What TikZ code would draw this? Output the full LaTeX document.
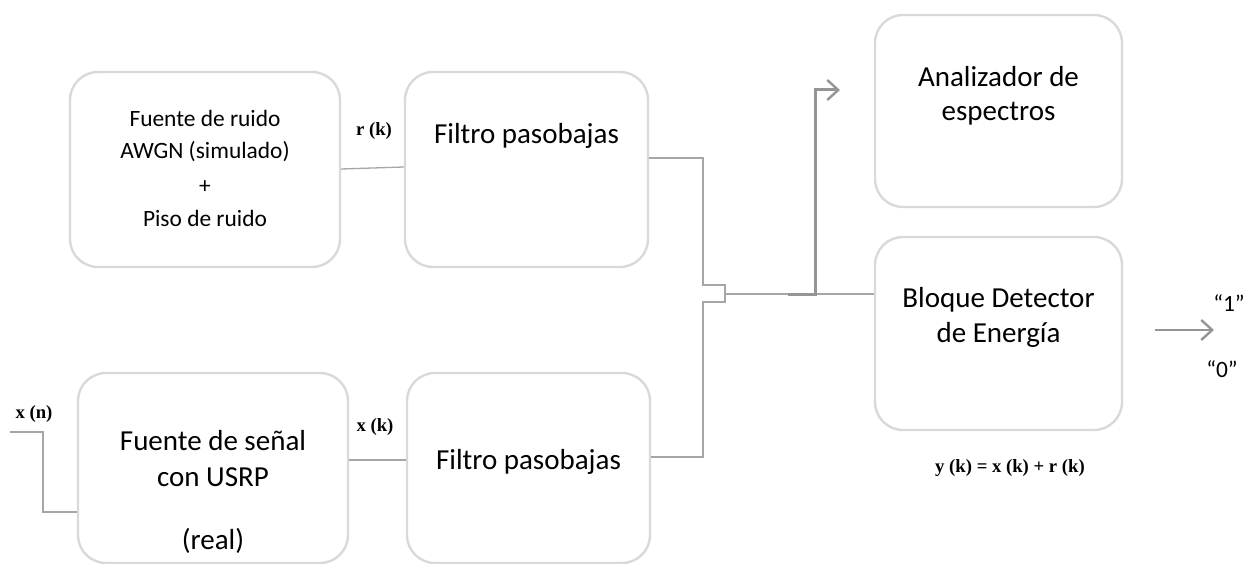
\documentclass[tikz,border=0pt]{standalone}
\usepackage{fontspec}
\setmainfont{Carlito}
\newfontfamily\lblfont{Liberation Serif}
\usetikzlibrary{arrows.meta}
\definecolor{boxgray}{HTML}{D9D9D9}
\definecolor{linegray}{HTML}{A6A6A6}
\definecolor{arrgray}{HTML}{959595}
\tikzset{
  blk/.style={draw=boxgray, line width=2.4pt, rounded corners=28pt, inner sep=0pt},
  big/.style={font=\fontsize{29}{35}\selectfont, anchor=base, inner sep=0pt},
  small/.style={font=\fontsize{23.4}{28}\selectfont, anchor=base, inner sep=0pt},
  lbl/.style={font=\lblfont\bfseries\fontsize{18.7}{22}\selectfont, anchor=base, inner sep=0pt},
  conn/.style={draw=linegray, line width=1.3pt},
  thick conn/.style={draw=arrgray, line width=3pt},
  openarrow/.style={-{Straight Barb[length=11pt,width=20pt,line width=2.4pt]}}
}
\begin{document}
\begin{tikzpicture}[x=1pt,y=-1pt]
\useasboundingbox (0,0) rectangle (1252,564);
% boxes
\node[blk, minimum width=270pt, minimum height=195pt] (n1) at (205,169.5) {};
\node[blk, minimum width=243pt, minimum height=195pt] (f1) at (526.5,169.5) {};
\node[blk, minimum width=247pt, minimum height=192pt] (an) at (998.5,111) {};
\node[blk, minimum width=247pt, minimum height=193pt] (det) at (998.5,333.5) {};
\node[blk, minimum width=270pt, minimum height=190pt] (s1) at (213,468) {};
\node[blk, minimum width=243pt, minimum height=190pt] (f2) at (528.5,468) {};
% texts
\node[small] (t1a) at (205,126.7) {Fuente de ruido};
\node[small] (t1b) at (205,158.3) {AWGN (simulado)};
\node[small] (t1c) at (205,193.3) {+};
\node[small] (t1d) at (205,226.7) {Piso de ruido};
\node[big] (t2) at (526.5,144) {Filtro pasobajas};
\node[big] (t3a) at (998.5,87) {Analizador de};
\node[big] (t3b) at (998.5,121) {espectros};
\node[big] (t4a) at (998.5,307) {Bloque Detector};
\node[big] (t4b) at (998.5,342) {de Energía};
\node[big] (t5a) at (213,450) {Fuente de señal};
\node[big] (t5b) at (213,486) {con USRP};
\node[big] (t5c) at (213,549) {(real)};
\node[big] (t6) at (528.5,469) {Filtro pasobajas};
% labels
\node[lbl] (rk) at (374,136) {r (k)};
\node[lbl] (xk) at (375,431) {x (k)};
\node[lbl] (xn) at (34,418) {x (n)};
\node[lbl] (yk) at (1010,472) {y (k) = x (k) + r (k)};
\node[small] (o1) at (1229,311) {“1”};
\node[small] (o0) at (1222,377) {“0”};
% coordinates
\coordinate (xin) at (10,432);
\coordinate (br) at (788,294);
\coordinate (atip) at (840,90);
\coordinate (ostart) at (1155,330);
\coordinate (oend) at (1214,330);
% connectors
\draw[conn] (n1.east |- 0,169) -- (f1.west |- 0,167);
\draw[conn] (s1.east |- 0,460) -- (f2.west |- 0,460);
\draw[conn] (xin) -| (43,512) -- (s1.west |- 0,512);
\draw[conn] (f1.east |- 0,158) -| (703,285) -- (725,285) -- (725,302) -- (703,302) |- (f2.east |- 0,457);
\draw[conn] (725,294) -- (det.west |- 0,294);
\draw[thick conn, openarrow] (br) -| (815,90) -- (atip);
\draw[conn, line width=2.2pt, draw=arrgray, openarrow] (ostart) -- (oend);
\end{tikzpicture}
\end{document}
